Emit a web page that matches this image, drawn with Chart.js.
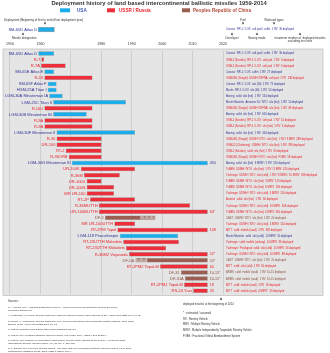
<!DOCTYPE html>
<html><head><meta charset="utf-8">
<script src="https://cdn.jsdelivr.net/npm/chart.js@4.4.0/dist/chart.umd.min.js"></script>
<style>html,body{margin:0;padding:0;background:#fff;}#wrap{width:330px;height:353px;position:relative;}</style>
</head><body><div id="wrap"><canvas id="c" width="330" height="353"></canvas></div>
<script>
// ---------- data ----------
const missiles = ['SM-65D Atlas D','R-7','R-7A','SM-65E Atlas E','R-16','SM-65F Atlas F','HGM-25A Titan I','LGM-30A Minuteman IA','LGM-25C Titan II','R-16U','LGM-30B Minuteman IB','R-9A','R-9A','LGM-30F Minuteman II','R-36','UR-100','RT-2','R-36ORB','LGM-30G Minuteman III','UR-100K','R-36M','UR-100U','UR-100N','MR UR-100','RT-2P','R-36MUTTH','UR-100NUTTH','DF-5','MR UR-100UTTH','RT-2PM Topol','LGM-118 Peacekeeper','RT-23UTTH Molodets','RT-23UTTH Molodets','R-36M2 Voyevoda','DF-5A','RT-2PM2 Topol-M','DF-31','DF-31A','RT-2PM1 Topol-M','RS-24 Yars'];
const countries = ['US','SU','SU','US','SU','US','US','US','US','SU','US','SU','SU','US','SU','SU','SU','SU','US','SU','SU','SU','SU','SU','SU','SU','SU','CN','SU','SU','US','SU','SU','SU','CN','SU','CN','CN','SU','SU'];
const startYears = [1959.3,1960.3,1960.2,1961.3,1961.3,1962.4,1962.4,1962.9,1964.2,1961.3,1964.2,1961.3,1961.3,1965.3,1965.3,1965.3,1968.3,1969.3,1970.3,1973.3,1974.3,1975.2,1975.2,1975.2,1976.3,1979.2,1979.2,1981.2,1984.3,1985.3,1986.1,1987.2,1988.1,1989.1,1994.9,1999.3,2006.2,2007.5,2007.2,2010.2];
const endYears = [1964.5,1961.2,1968.3,1964.5,1977.1,1965.3,1965.3,1967.3,1988.1,1977.1,1975.2,1977.1,1977.1,1991.1,1980.1,1980.1,1980.1,1980.1,2015,1991.1,1986.1,1980.1,1984.2,1984.2,1991.1,2009.2,2015,1993,1991.1,2015,2005.2,2005.5,2001.3,2015,2015,2015,2015,2015,2015,2015];
const uncertainStart = [null,null,null,null,null,null,null,null,null,null,null,null,null,null,null,null,null,null,null,null,null,null,null,null,null,null,null,1993,null,null,null,null,null,null,1991.2,null,null,null,null,null];
const uncertainEnd   = [null,null,null,null,null,null,null,null,null,null,null,null,null,null,null,null,null,null,null,null,null,null,null,null,null,null,null,1997.8,null,null,null,null,null,null,1994.9,null,null,null,null,null];
const questionMarks = {27:[1994.2,1995.7,1997.1], 34:[1992.2,1993.9]};
const deployed2014 = ['','','','','','','','','','','','','','','','','','','450','','','','','','','','60*','','','108','','','','52*','20*','60','10-15*','10-15*','18','33'];
const details = [
 'Convair  RP-1 / LOX  soft pad / coffin  1 RV  30 deployed',
 'OKB-1 (Korolev)  RP-1 / LOX  soft pad  1 RV  4 deployed',
 'OKB-1 (Korolev)  RP-1 / LOX  soft pad  1 RV  6 deployed',
 'Convair  RP-1 / LOX  coffin  1 RV  27 deployed',
 'OKB-586 (Yangel)  UDMH / IRFNA  soft pad  1 RV  138 deployed',
 'Convair  RP-1 / LOX  silo (lift)  1 RV  72 deployed',
 'Martin  RP-1 / LOX  silo (lift)  1 RV  54 deployed',
 'Boeing  solid  silo (hot)  1 RV  150 deployed',
 'Martin Marietta  Aerozine 50 / NTO  silo (hot)  1 RV  54 deployed',
 'OKB-586 (Yangel)  UDMH / IRFNA  silo (hot)  1 RV  69 deployed',
 'Boeing  solid  silo (hot)  1 RV  650 deployed',
 'OKB-1 (Korolev)  RP-1 / LOX  soft pad  1 RV  10 deployed',
 'OKB-1 (Korolev)  RP-1 / LOX  silo (hot)  1 RV  3 deployed',
 'Boeing  solid  silo (hot)  1 RV  450 deployed',
 'OKB-586 (Yangel)  UDMH / NTO  silo (hot)  1 RV / 3 MRV  288 deployed',
 'OKB-52 (Chelomey)  UDMH / NTO  silo (hot)  1 RV  990 deployed',
 'OKB-1 (Korolev)  solid  silo (hot)  1 RV  60 deployed',
 'OKB-586 (Yangel)  UDMH / NTO  silo (hot)  FOBS  18 deployed',
 'Boeing  solid  silo (hot)  3 MIRV / 1 RV  550 deployed',
 'TsKBM  UDMH / NTO  silo (hot)  1 RV / 3 MRV  420 deployed',
 'Yuzhnoye  UDMH / NTO  silo (cold)  1 RV / 8 MIRV / 10 MIRV  308 deployed',
 'TsKBM  UDMH / NTO  silo (hot)  3 MRV  120 deployed',
 'TsKBM  UDMH / NTO  silo (hot)  6 MIRV  180 deployed',
 'Yuzhnoye  UDMH / NTO  silo (cold)  4 MIRV  150 deployed',
 'Arsenal  solid  silo (hot)  1 RV  60 deployed',
 'Yuzhnoye  UDMH / NTO  silo (cold)  10 MIRV  308 deployed',
 'TsKBM  UDMH / NTO  silo (hot)  6 MIRV  360 deployed',
 'CAST  UDMH / NTO  silo (hot)  1 RV  20 deployed',
 'Yuzhnoye  UDMH / NTO  silo (cold)  4 MIRV  150 deployed',
 'MITT  solid  mobile (road)  1 RV  369 deployed',
 'Martin Marietta  solid  silo (cold)  10 MIRV  50 deployed',
 'Yuzhnoye  solid  mobile (railway)  10 MIRV  36 deployed',
 'Yuzhnoye / Pavlograd  solid  silo (cold)  10 MIRV  56 deployed',
 'Yuzhnoye  UDMH / NTO  silo (cold)  10 MIRV  88 deployed',
 'CAST  UDMH / NTO  silo (hot)  1 RV  20 deployed',
 'MITT  solid  silo (cold)  1 RV  60 deployed',
 'ARMS  solid  mobile (road)  1 RV  10-15 deployed',
 'ARMS  solid  mobile (road)  1 RV  10-15 deployed',
 'MITT  solid  mobile (road)  1 RV  18 deployed',
 'MITT  solid  mobile (road)  4 MIRV*  33 deployed'
];
const tickYears = [1950,1960,1970,1980,1990,2000,2010,2020];
const tickLabels = ['1950','1960','','1980','1990','2000','2010','2020'];
const legendNames = {US:'USA', SU:'USSR / Russia', CN:'Peoples Republic of China'};
const exampleBar = [1959.3,1964.5];
const sources = [
 'M. Acheson (ed.): Assuring Destruction Forever - Nuclear weapon modernization around the world,',
 'Reaching Critical Will',
 'H. Kristensen, R. Norris: Nuclear Notebook: Chinese Nuclear Forces, 2013, Bulletin of the Atomic Scientists 69(6) 79-85',
 'R. Norris, H. Kristensen: Nuclear Notebook: U.S. and Soviet/Russian intercontinental ballistic missiles, 1959-2008,',
 'Bulletin of the Atomic Scientists 2009 65: 62',
 'P. Podvig: Russian Forces Blog: http://www.russianforces.org',
 'P. Podvig (ed.): Russian Strategic Nuclear Forces, MIT Press, 2004, ISBN 0-262-16202-4',
 'P. Podvig, The Window of Vulnerability That Wasn\'t: Soviet Military Buildup in the 1970s: A Research Note,',
 'International Security Summer 2008, Vol. 33, No. 1, 118-138',
 'S. J. Zaloga: The Kremlin\'s Nuclear Sword - The Rise and Fall of Russia\'s Strategic Nuclear Forces, 1945-2000,',
 'Smithsonian Institution Press, 2001, ISBN 1-58834-007-4'
];
const glossary = ['* : estimated / assumed','RV : Reentry Vehicle','MRV : Multiple Reentry Vehicle','MIRV : Multiple Independently Targetable Reentry Vehicle','FOBS : Fractional Orbital Bombardment System'];

// ---------- styles ----------
const barColor = {US:'#1badea', SU:'#ec2f3a', CN:'#9c5e50'};
const textColor = {US:'#2e3192', SU:'#e8212b', CN:'#8c4f40'};
const legendText = {US:'#3a55b4', SU:'#e8212b', CN:'#b04a3a'};
const FONT = '"Liberation Sans", Arial, sans-serif';

function tri(ctx,x,y,up,s){ s=s||1.2; ctx.beginPath();
  if(up){ctx.moveTo(x,y-s);ctx.lineTo(x-s,y+s);ctx.lineTo(x+s,y+s);}
  else {ctx.moveTo(x,y+s);ctx.lineTo(x-s,y-s);ctx.lineTo(x+s,y-s);}
  ctx.closePath(); ctx.fill(); }

const deco = {
  id:'deco',
  beforeDraw(chart){
    const {ctx, chartArea:a} = chart;
    ctx.save();
    ctx.fillStyle = '#e5e5e5';
    ctx.fillRect(a.left, a.top-1.5, a.right-a.left, a.bottom-a.top+3);
    ctx.strokeStyle = '#b0b0b0'; ctx.lineWidth = 0.6;
    ctx.strokeRect(a.left, a.top-1.5, a.right-a.left, a.bottom-a.top+3);
    ctx.restore();
  },
  afterDatasetsDraw(chart){
    const {ctx} = chart; const xs = chart.scales.x, ys = chart.scales.y;
    ctx.save(); ctx.textBaseline = 'middle';
    missiles.forEach((name,i)=>{
      const c = countries[i]; const y = ys.getPixelForValue(i);
      const s = uncertainStart[i]!=null ? Math.min(startYears[i],uncertainStart[i]) : startYears[i];
      const e = uncertainEnd[i]!=null ? Math.max(endYears[i],uncertainEnd[i]) : endYears[i];
      ctx.fillStyle = textColor[c];
      ctx.font = '4px '+FONT; ctx.textAlign = 'right';
      ctx.fillText(name, xs.getPixelForValue(s)-1.2, y+0.2);
      if(deployed2014[i]){ ctx.textAlign='left'; ctx.font='3.6px '+FONT;
        ctx.fillText(deployed2014[i], xs.getPixelForValue(e)+2, y+0.2); }
      ctx.textAlign='left'; ctx.font='2.7px '+FONT;
      ctx.fillText(details[i], xs.getPixelForValue(2021), y+0.2);
      if(questionMarks[i]){ ctx.fillStyle='#5a3a30'; ctx.font='3.4px '+FONT; ctx.textAlign='center';
        questionMarks[i].forEach(q=>ctx.fillText('?', xs.getPixelForValue(q), y+0.2)); }
    });
    ctx.restore();
  },
  afterDraw(chart){
    const {ctx} = chart; const xs = chart.scales.x;
    ctx.save(); ctx.textBaseline='middle';
    ctx.fillStyle='#333'; ctx.font='bold 5.8px '+FONT; ctx.textAlign='center';
    ctx.fillText('Deployment history of land based intercontinental ballistic missiles 1959-2014', 159, 3.8);
    const leg = [['US',60,77],['SU',107,119],['CN',182,193]];
    ctx.font='bold 4.6px '+FONT; ctx.textAlign='left';
    leg.forEach(([k,bx,tx])=>{ ctx.fillStyle=barColor[k]; ctx.fillRect(bx,8.3,(k==='US'?10:8),4);
      ctx.fillStyle=legendText[k]; ctx.fillText(legendNames[k], tx, 10.5); });
    ctx.fillStyle='#333'; ctx.font='3.6px '+FONT; ctx.textAlign='center';
    tickYears.forEach((t,i)=>{ if(tickLabels[i]) ctx.fillText(tickLabels[i], xs.getPixelForValue(t), 44); });
    ctx.fillStyle='#333'; ctx.font='2.9px '+FONT; ctx.textAlign='left';
    ctx.fillText('Deployment (Beginning of first to end of last deployment year)', 4, 20);
    tri(ctx,45,23.6,false);
    const x0=xs.getPixelForValue(exampleBar[0]), x1=xs.getPixelForValue(exampleBar[1]);
    ctx.fillStyle=barColor.US; ctx.fillRect(x0,27.3,x1-x0,4.5);
    ctx.strokeStyle='#8a8a8a'; ctx.lineWidth=0.5; ctx.strokeRect(x0,27.3,x1-x0,4.5);
    ctx.fillStyle=textColor.US; ctx.font='4px '+FONT; ctx.textAlign='right';
    ctx.fillText(missiles[0], x0-1.2, 29.7);
    ctx.fillStyle='#333'; tri(ctx,23,33.6,true);
    ctx.font='2.9px '+FONT; ctx.textAlign='left'; ctx.fillText('Missile designation', 12, 37.8);
    ctx.textAlign='center';
    ctx.fillText('Fuel', 243, 20); tri(ctx,243,23.6,false);
    ctx.fillText('Warhead types', 274, 20); tri(ctx,274,23.6,false);
    ctx.fillStyle=textColor.US; ctx.font='2.7px '+FONT; ctx.textAlign='left';
    ctx.fillText(details[0], xs.getPixelForValue(2021), 29.7);
    ctx.fillStyle='#333'; ctx.font='2.9px '+FONT; ctx.textAlign='center';
    tri(ctx,232,33.6,true); ctx.fillText('Developer', 232, 37.8);
    tri(ctx,257,33.6,true); ctx.fillText('Basing mode', 257, 37.8);
    tri(ctx,300,33.6,true); ctx.fillText('maximum number of  deployed missiles', 300, 37.8);
    ctx.fillText('excluding test sites', 300, 40.8);
    ctx.textAlign='left'; ctx.font='2.7px '+FONT; ctx.fillStyle='#333';
    ctx.fillText('Sources:', 8, 301);
    const sy=[307,310,315.5,321,324,329.5,335,340.5,343.5,348.5,351.5];
    ctx.font='2.5px '+FONT;
    sources.forEach((s,i)=>ctx.fillText(s, 8, sy[i]));
    tri(ctx,221,298.5,true);
    ctx.font='2.7px '+FONT;
    ctx.fillText('deployed missiles at the beginning of 2014', 183, 304);
    const gy=[313,319,324.5,330.3,336];
    glossary.forEach((g,i)=>ctx.fillText(g, 183, gy[i]));
    ctx.restore();
  }
};

const mainData = startYears.map((s,i)=>[s,endYears[i]]);
const uncData = uncertainStart.map((s,i)=> s==null ? null : [s,uncertainEnd[i]]);

new Chart(document.getElementById('c'), {
  type:'bar',
  data:{ labels: missiles, datasets:[
    { data: mainData, backgroundColor: countries.map(c=>barColor[c]), borderColor:'#8a8a8a', borderWidth:0.5,
      borderSkipped:false, categoryPercentage:1, barPercentage:0.74, grouped:false },
    { data: uncData, backgroundColor: countries.map(c=>'rgba(156,94,80,0.45)'), borderColor:'#9a8a85', borderWidth:0.4,
      borderSkipped:false, categoryPercentage:1, barPercentage:0.74, grouped:false }
  ]},
  options:{
    responsive:false, animation:false, indexAxis:'y',
    layout:{ padding:{ left:3, right:7, top:50.5, bottom:59.2 } },
    plugins:{ legend:{display:false}, title:{display:false}, tooltip:{enabled:false} },
    scales:{
      x:{ type:'linear', position:'top', min:1947.7, max:2052.86,
        afterBuildTicks: s=>{ s.ticks = tickYears.map(v=>({value:v})); },
        ticks:{ display:false }, grid:{ color:'#c4c4c4', lineWidth:0.7, drawTicks:false }, border:{ display:false } },
      y:{ display:false }
    }
  },
  plugins:[deco]
});
</script></body></html>
